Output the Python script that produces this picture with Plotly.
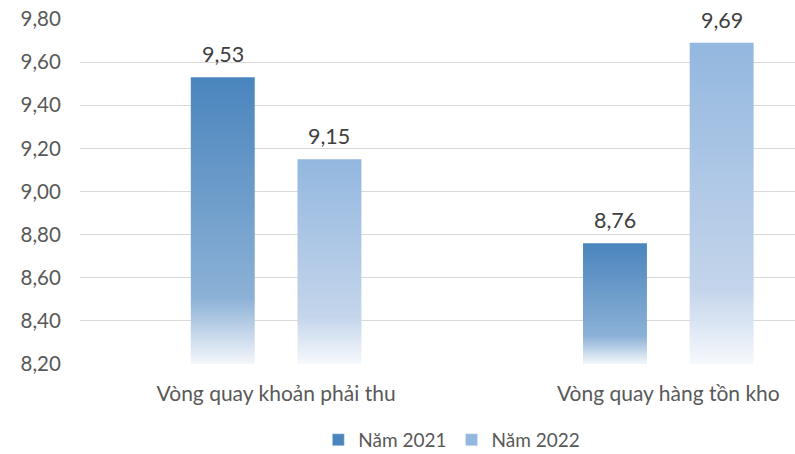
import plotly.graph_objects as go

# Chart data
categories = ["Vòng quay khoản phải thu", "Vòng quay hàng tồn kho"]
series_names = ["Năm 2021", "Năm 2022"]
values_2021 = [9.53, 8.76]
values_2022 = [9.15, 9.69]
y_tick_values = [8.20, 8.40, 8.60, 8.80, 9.00, 9.20, 9.40, 9.60, 9.80]

# Axis and bar geometry (category units)
AXIS_MIN, AXIS_MAX = 8.2, 9.8
BAR_WIDTH = 0.163
SERIES_OFFSETS = [-0.136, 0.136]

# Vertical gradient per series: bottom -> knee -> top
SERIES_STYLES = [
    {"top": "#4a85bd", "knee": "#8cb1d6", "bottom": "#f4f7fb"},
    {"top": "#93b7df", "knee": "#c4d5eb", "bottom": "#f6f9fc"},
]
KNEE = 0.23

TEXT_FONT = "Lato, 'Open Sans', sans-serif"


def comma_fmt(v):
    return f"{v:.2f}".replace(".", ",")


fig = go.Figure()

all_series = [values_2021, values_2022]
for s, (name, vals) in enumerate(zip(series_names, all_series)):
    style = SERIES_STYLES[s]
    for i, v in enumerate(vals):
        xc = i + SERIES_OFFSETS[s]
        x0, x1 = xc - BAR_WIDTH / 2, xc + BAR_WIDTH / 2
        fig.add_trace(go.Scatter(
            x=[x0, x1, x1, x0, x0],
            y=[AXIS_MIN, AXIS_MIN, v, v, AXIS_MIN],
            mode="lines",
            line=dict(width=0),
            fill="toself",
            fillgradient=dict(
                type="vertical",
                start=AXIS_MIN,
                stop=v,
                colorscale=[[0, style["bottom"]], [KNEE, style["knee"]], [1, style["top"]]],
            ),
            showlegend=False,
            hoverinfo="skip",
        ))
        fig.add_annotation(
            x=xc, y=v, text=comma_fmt(v),
            showarrow=False, yanchor="bottom", yshift=8,
            font=dict(family=TEXT_FONT, size=21.5, color="#404040"),
        )
    # legend swatch
    fig.add_trace(go.Bar(
        x=[None], y=[None], name=name,
        marker=dict(color=style["top"]),
    ))

fig.update_layout(
    width=795,
    height=454,
    margin=dict(l=80, r=0, t=19, b=90, autoexpand=False),
    paper_bgcolor="white",
    plot_bgcolor="white",
    font=dict(family=TEXT_FONT, size=19, color="#595959"),
    showlegend=True,
    legend=dict(
        orientation="h",
        x=0.52, xanchor="center",
        yref="container",
        y=0.031, yanchor="middle",
        font=dict(family=TEXT_FONT, size=19, color="#595959"),
        itemwidth=30,
    ),
    xaxis=dict(
        range=[-0.5, 1.323],
        tickvals=[0, 1],
        ticktext=categories,
        showgrid=False,
        zeroline=False,
        showline=False,
        ticks="outside",
        ticklen=11,
        tickcolor="rgba(0,0,0,0)",
        tickfont=dict(family=TEXT_FONT, size=21, color="#595959"),
        automargin=False,
        fixedrange=True,
    ),
    yaxis=dict(
        range=[AXIS_MIN, AXIS_MAX],
        tickvals=y_tick_values,
        ticktext=[comma_fmt(v) for v in y_tick_values],
        showgrid=True,
        gridcolor="#d9d9d9",
        gridwidth=1.3,
        zeroline=False,
        showline=False,
        ticks="outside",
        ticklen=14,
        tickcolor="rgba(0,0,0,0)",
        tickfont=dict(family=TEXT_FONT, size=20.5, color="#595959"),
        automargin=False,
        fixedrange=True,
    ),
)

fig.write_html("out.html")
